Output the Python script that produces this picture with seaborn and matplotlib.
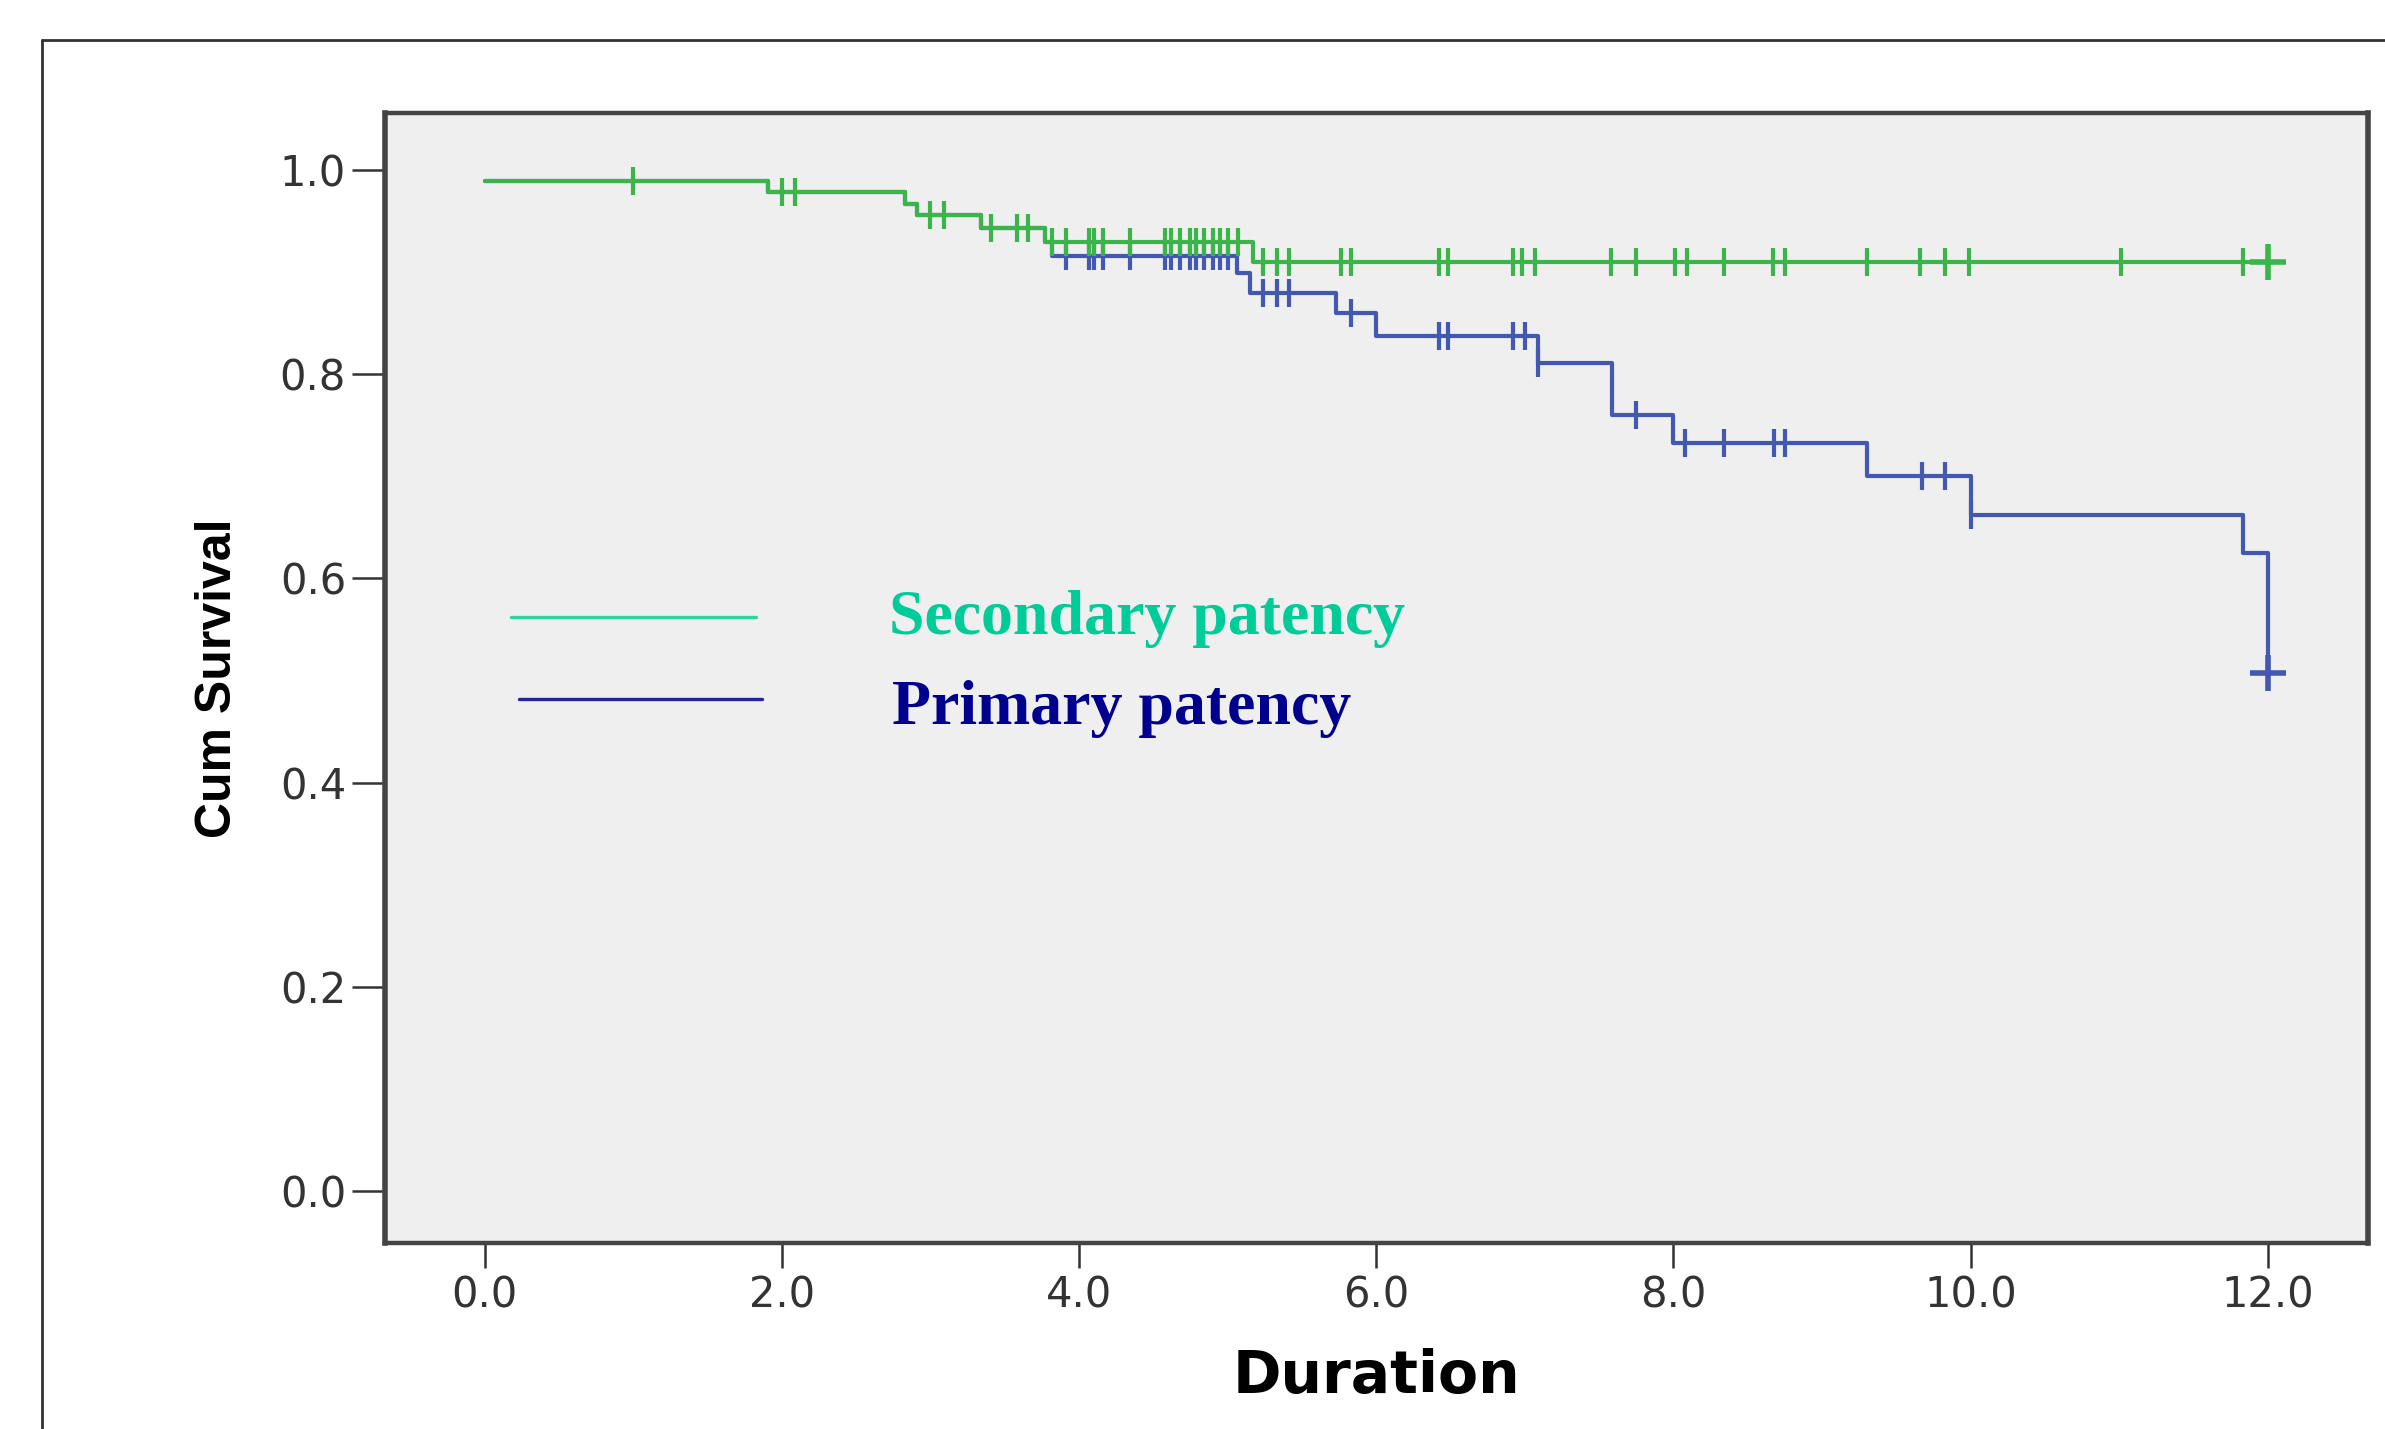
import numpy as np
import pandas as pd
import matplotlib
matplotlib.use("Agg")
import matplotlib.pyplot as plt
import seaborn as sns
from matplotlib.lines import Line2D

# ---------------- data ----------------
# Secondary patency: Kaplan-Meier step function (time of step, survival after step)
sec_times = [0.0, 1.91, 2.83, 2.91, 3.34, 3.77, 5.17, 12.0]
sec_surv = [0.989, 0.978, 0.967, 0.956, 0.943, 0.929, 0.910, 0.910]
sec_censor = [1.0, 2.0, 2.09, 3.00, 3.09, 3.41, 3.58, 3.66,
              3.82, 3.91, 4.07, 4.10, 4.16, 4.34, 4.58, 4.62, 4.68, 4.75,
              4.79, 4.84, 4.90, 4.95, 5.00, 5.07,
              5.24, 5.33, 5.41, 5.76, 5.83, 6.42, 6.48, 6.92, 6.98, 7.07,
              7.58, 7.75, 8.01, 8.09, 8.34, 8.67, 8.75, 9.30, 9.66, 9.83,
              9.99, 11.01, 11.83, 12.0]

# Primary patency
pri_times = [0.0, 1.91, 2.83, 2.91, 3.34, 3.77, 3.82, 5.06, 5.15, 5.73,
             6.00, 7.09, 7.59, 8.00, 9.30, 10.0, 11.83, 12.0]
pri_surv = [0.989, 0.978, 0.967, 0.956, 0.943, 0.929, 0.916, 0.899, 0.880, 0.860,
            0.837, 0.811, 0.760, 0.733, 0.700, 0.662, 0.625, 0.507]
pri_censor = [3.91, 4.07, 4.10, 4.16, 4.34, 4.58, 4.62, 4.68, 4.75, 4.79,
              4.84, 4.90, 4.95, 5.00, 5.24, 5.33, 5.41, 5.83, 6.42, 6.48,
              6.92, 7.00, 7.09, 7.75, 8.08, 8.34, 8.68, 8.75, 9.67, 9.83,
              10.0, 12.0]

series_names = ["Secondary patency", "Primary patency"]
x_ticks = [0.0, 2.0, 4.0, 6.0, 8.0, 10.0, 12.0]
y_ticks = [0.0, 0.2, 0.4, 0.6, 0.8, 1.0]

GREEN = "#3bb44a"
BLUE = "#4358b0"
LEG_TEAL = "#2ed3a2"
LEG_NAVY = "#23239c"
TXT_TEAL = "#00cc99"
TXT_NAVY = "#00008f"


def step_value(times, surv, t):
    idx = np.searchsorted(np.asarray(times), t, side="right") - 1
    return np.asarray(surv)[np.clip(idx, 0, len(surv) - 1)]


steps = pd.concat([
    pd.DataFrame({"time": sec_times, "surv": sec_surv, "group": series_names[0]}),
    pd.DataFrame({"time": pri_times, "surv": pri_surv, "group": series_names[1]}),
], ignore_index=True)

cens = pd.concat([
    pd.DataFrame({"time": sec_censor,
                  "surv": step_value(sec_times, sec_surv, np.array(sec_censor)),
                  "group": series_names[0]}),
    pd.DataFrame({"time": pri_censor,
                  "surv": step_value(pri_times, pri_surv, np.array(pri_censor)),
                  "group": series_names[1]}),
], ignore_index=True)

# ---------------- figure ----------------
sns.set_theme(style="ticks")
plt.rcParams["font.family"] = ["DejaVu Sans"]

W, H = 2385, 1429
fig = plt.figure(figsize=(W / 100, H / 100), dpi=100)
fig.patch.set_facecolor("white")

# outer frame (left and top lines)
fig.add_artist(Line2D([42 / W, 42 / W], [0, 1 - 40 / H], transform=fig.transFigure,
                      color="#333333", lw=2.0))
fig.add_artist(Line2D([42 / W, 1.0], [1 - 40 / H, 1 - 40 / H], transform=fig.transFigure,
                      color="#333333", lw=2.0))

left, right, top, bottom = 385 / W, 2368 / W, 1 - 113 / H, 1 - 1243 / H
ax = fig.add_axes([left, bottom, right - left, top - bottom])
ax.set_facecolor("#efefef")

palette = {series_names[0]: GREEN, series_names[1]: BLUE}

# draw primary first so secondary lies on top where equal
for name in [series_names[1], series_names[0]]:
    d = steps[steps["group"] == name]
    sns.lineplot(data=d, x="time", y="surv", ax=ax, color=palette[name],
                 drawstyle="steps-post", lw=3.0, estimator=None, sort=False,
                 legend=False)
    c = cens[cens["group"] == name]
    sns.scatterplot(data=c, x="time", y="surv", ax=ax, color=palette[name],
                    marker="|", s=420, linewidth=3.0, legend=False, zorder=3)

# end marks "+" at 12.0
for name in series_names:
    c = cens[(cens["group"] == name) & (cens["time"] >= 12.0)]
    sns.scatterplot(data=c, x="time", y="surv", ax=ax, color=palette[name],
                    marker="+", s=650, linewidth=4.0, legend=False, zorder=4)

ax.set_xlim(-0.670, 12.674)
ax.set_ylim(-0.0509, 1.0558)
ax.set_xticks(x_ticks)
ax.set_xticklabels([f"{v:.1f}" for v in x_ticks])
ax.set_yticks(y_ticks)
ax.set_yticklabels([f"{v:.1f}" for v in y_ticks])

for s in ["left", "right"]:
    ax.spines[s].set_linewidth(4.0)
for s in ["top", "bottom"]:
    ax.spines[s].set_linewidth(3.2)
for s in ax.spines.values():
    s.set_color("#444444")
    s.set_visible(True)

ax.tick_params(axis="y", direction="out", length=24, width=1.8, color="#333333",
               labelsize=30, labelcolor="#333333", pad=4)
ax.tick_params(axis="x", direction="out", length=18, width=1.8, color="#333333",
               labelsize=30, labelcolor="#333333", pad=5)

ax.set_xlabel("Duration", fontsize=42, fontweight="bold", color="black", labelpad=22)
ax.set_ylabel("Cum Survival", fontsize=36, fontweight="bold", color="black",
              family=["Liberation Sans", "DejaVu Sans"], labelpad=28)

# in-plot legend
ax.plot([0.175, 1.826], [0.5625, 0.5625], color=LEG_TEAL, lw=2.4)
ax.plot([0.233, 1.867], [0.482, 0.482], color=LEG_NAVY, lw=2.4)
ax.text(2.72, 0.5455, series_names[0], color=TXT_TEAL, fontsize=46, fontweight="bold",
        family=["Liberation Serif", "DejaVu Serif"], va="baseline", ha="left")
ax.text(2.74, 0.457, series_names[1], color=TXT_NAVY, fontsize=46, fontweight="bold",
        family=["Liberation Serif", "DejaVu Serif"], va="baseline", ha="left")

fig.savefig("out.png", dpi=100, facecolor="white")
